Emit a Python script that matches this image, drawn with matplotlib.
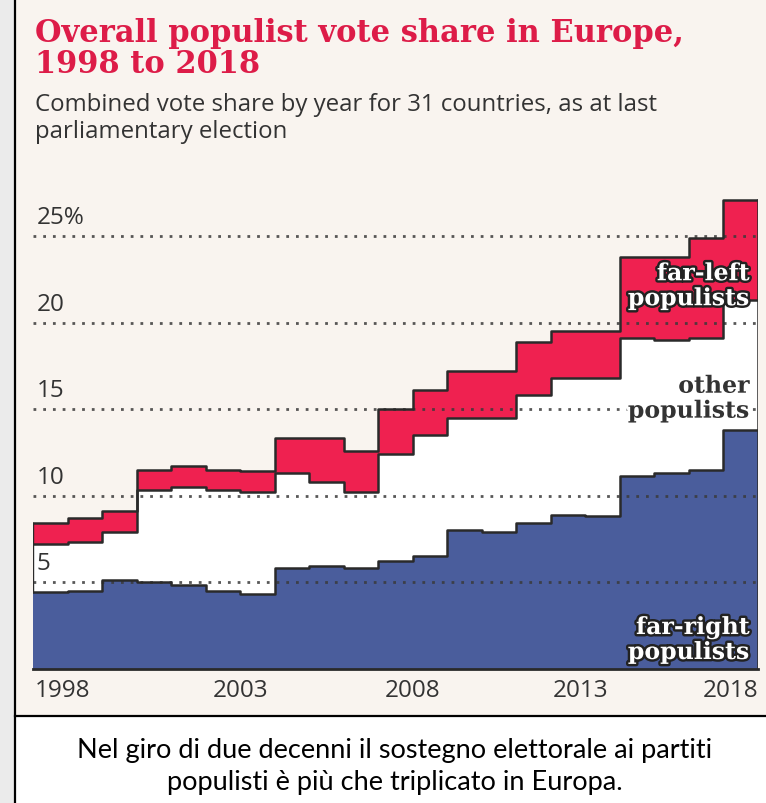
import numpy as np
import matplotlib
matplotlib.use("Agg")
import matplotlib.pyplot as plt
from matplotlib.patches import Rectangle
from matplotlib.lines import Line2D
import matplotlib.patheffects as pe

# vote share (%) per year, by bloc
years = list(range(1998, 2019))
far_right = [4.4, 4.5, 5.1, 5.0, 4.8, 4.5, 4.3, 5.8, 5.9, 5.8, 6.2,
             6.5, 8.0, 7.9, 8.4, 8.9, 8.8, 11.1, 11.3, 11.5, 13.8]
other = [2.8, 2.8, 2.8, 5.3, 5.7, 5.8, 5.9, 5.5, 4.9, 4.4, 6.2,
         7.0, 6.5, 6.6, 7.4, 7.9, 8.0, 8.0, 7.7, 7.6, 7.5]
far_left = [1.2, 1.4, 1.2, 1.2, 1.2, 1.2, 1.2, 2.0, 2.5, 2.4, 2.6,
            2.6, 2.7, 2.7, 3.1, 2.7, 2.7, 4.7, 4.8, 5.8, 5.8]
y_ticks = [5, 10, 15, 20, 25]
y_tick_labels = ["5", "10", "15", "20", "25%"]
x_tick_years = [1998, 2003, 2008, 2013, 2018]

title_lines = ["Overall populist vote share in Europe,", "1998 to 2018"]
subtitle_lines = ["Combined vote share by year for 31 countries, as at last",
                  "parliamentary election"]
caption_lines = ["Nel giro di due decenni il sostegno elettorale ai partiti",
                 "populisti è più che triplicato in Europa."]

RED = "#ef2150"
NAVY = "#4a5d9c"
CREAM = "#f9f4ef"
DARK = "#2a2a2a"
W, H = 766, 804

fig = plt.figure(figsize=(W / 100, H / 100), dpi=100, facecolor=CREAM)


def fx(px):
    return px / W


def fy(py):
    return 1 - py / H


# page furniture: grey strip on the left, caption box at the bottom
fig.add_artist(Rectangle((0, 0), fx(15), 1, transform=fig.transFigure,
                         facecolor="#ebebeb", edgecolor="none", zorder=0))
fig.add_artist(Rectangle((fx(15), 0), 1, fy(717), transform=fig.transFigure,
                         facecolor="white", edgecolor="none", zorder=0))
fig.add_artist(Line2D([fx(15), fx(15)], [0, 1], transform=fig.transFigure,
                      color="black", lw=1.6))
fig.add_artist(Line2D([fx(15), 1], [fy(717), fy(717)], transform=fig.transFigure,
                      color="black", lw=1.6))

# titles
for i, line in enumerate(title_lines):
    fig.text(fx(35), fy(42 + 31 * i), line, color="#dd1c48", fontsize=22,
             fontweight="bold", family="DejaVu Serif", va="baseline", ha="left")
for i, line in enumerate(subtitle_lines):
    fig.text(fx(35), fy(111 + 27 * i), line, color="#333333", fontsize=17.3,
             family="Open Sans", va="baseline", ha="left")

# caption
for i, line in enumerate(caption_lines):
    fig.text(fx(395), fy(758 + 32 * i), line, color="black", fontsize=19.5,
             family="Lato", ha="center", va="baseline")

# chart area
y_top = 28
px_per_unit = 17.3
base_px = 669.5
ax = fig.add_axes([fx(33), fy(base_px), fx(758) - fx(33), y_top * px_per_unit / H])
ax.set_facecolor("none")
ax.set_xlim(1997, 2018)
ax.set_ylim(0, y_top)
for s in ax.spines.values():
    s.set_visible(False)
ax.set_xticks([])
ax.set_yticks([])

edges = np.arange(1997, 2019)
fr = np.array(far_right)
oth_top = fr + np.array(other)
total = oth_top + np.array(far_left)


def ext(v):
    return np.append(v, v[-1])


ax.fill_between(edges, 0, ext(fr), step="post", color=NAVY, lw=0, zorder=1)
ax.fill_between(edges, ext(fr), ext(oth_top), step="post", color="white", lw=0, zorder=1)
ax.fill_between(edges, ext(oth_top), ext(total), step="post", color=RED, lw=0, zorder=1)

# dotted gridlines sit over the areas
for t in y_ticks:
    ax.plot([1997, 2018], [t, t], color="#3a3a3a", lw=2.0, ls=(0, (1, 2.5)),
            zorder=2, alpha=0.85)

# step outlines
for v in (fr, oth_top, total):
    ax.step(edges, ext(v), where="post", color=DARK, lw=1.8, zorder=3)
ax.plot([2018, 2018], [0, total[-1]], color=DARK, lw=1.8, zorder=3)
ax.plot([1997, 1997], [fr[0], total[0]], color=DARK, lw=1.0, zorder=3)
ax.plot([1997, 2018], [0, 0], color=DARK, lw=2.0, zorder=3, clip_on=False)

# axis labels
for t, lab in zip(y_ticks, y_tick_labels):
    ax.text(1997.1, t + 0.4, lab, color="#333333", fontsize=17.5, family="Open Sans",
            ha="left", va="bottom", zorder=4)
for yr in x_tick_years:
    ha = "left" if yr == x_tick_years[0] else ("right" if yr == x_tick_years[-1] else "center")
    xpos = 1997.05 if yr == x_tick_years[0] else (yr - 0.15 if yr == 2013 else yr)
    ax.text(xpos, -0.55, str(yr), color="#333333", fontsize=17.5, family="Open Sans",
            ha=ha, va="top", zorder=4, clip_on=False)

# series labels
lab_kw = dict(fontsize=17, fontweight="bold", family="DejaVu Serif", ha="right",
              va="baseline", zorder=5, linespacing=1.05)
ax.text(2017.75, 21.0, "far-left\npopulists", color="white",
        path_effects=[pe.withStroke(linewidth=3.5, foreground="#222222")], **lab_kw)
ax.text(2017.75, 14.5, "other\npopulists", color="#333333",
        path_effects=[pe.withStroke(linewidth=4, foreground="white")], **lab_kw)
ax.text(2017.75, 0.55, "far-right\npopulists", color="white",
        path_effects=[pe.withStroke(linewidth=3.5, foreground="#222222")], **lab_kw)

fig.savefig("out.png", dpi=100, facecolor=CREAM)
